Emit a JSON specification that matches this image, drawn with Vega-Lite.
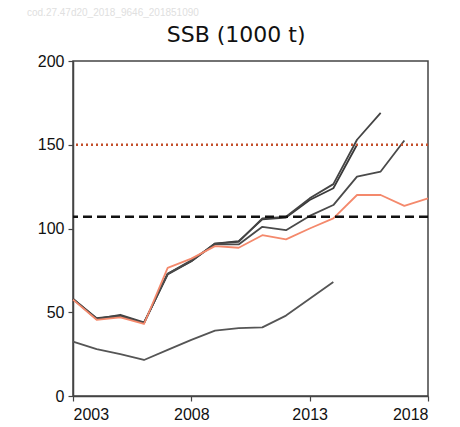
{
  "$schema": "https://vega.github.io/schema/vega-lite/v6.json",
  "autosize": "none",
  "width": 355,
  "height": 335,
  "padding": {"left": 73, "top": 61, "right": 32, "bottom": 31},
  "background": "white",
  "config": {
    "view": {"stroke": "#444", "strokeWidth": 1.5},
    "axis": {"labelFont": "Liberation Sans", "labelFontSize": 16, "labelColor": "#111", "domainColor": "#444", "domainWidth": 1.5, "tickColor": "#444", "tickWidth": 1.2, "tickSize": 5, "grid": false, "title": null}
  },
  "title": {"text": "SSB (1000 t)", "font": "DejaVu Sans", "fontSize": 22, "fontWeight": "normal", "color": "#111", "anchor": "middle", "frame": "bounds", "offset": -39, "dx": 8},
  "datasets": {
    "series": [
      {"series": "a", "year": 2003, "ssb": 32.5}, {"series": "a", "year": 2004, "ssb": 28}, {"series": "a", "year": 2005, "ssb": 25}, {"series": "a", "year": 2006, "ssb": 21.5}, {"series": "a", "year": 2007, "ssb": 27.5}, {"series": "a", "year": 2008, "ssb": 33.5}, {"series": "a", "year": 2009, "ssb": 39}, {"series": "a", "year": 2010, "ssb": 40.5}, {"series": "a", "year": 2011, "ssb": 41}, {"series": "a", "year": 2012, "ssb": 48}, {"series": "a", "year": 2013, "ssb": 58}, {"series": "a", "year": 2014, "ssb": 68},
      {"series": "b", "year": 2003, "ssb": 58}, {"series": "b", "year": 2004, "ssb": 46.5}, {"series": "b", "year": 2005, "ssb": 48}, {"series": "b", "year": 2006, "ssb": 43.5}, {"series": "b", "year": 2007, "ssb": 73}, {"series": "b", "year": 2008, "ssb": 80.5}, {"series": "b", "year": 2009, "ssb": 91}, {"series": "b", "year": 2010, "ssb": 92.5}, {"series": "b", "year": 2011, "ssb": 105.5}, {"series": "b", "year": 2012, "ssb": 106.5}, {"series": "b", "year": 2013, "ssb": 117}, {"series": "b", "year": 2014, "ssb": 124}, {"series": "b", "year": 2015, "ssb": 150},
      {"series": "c", "year": 2003, "ssb": 58}, {"series": "c", "year": 2004, "ssb": 46}, {"series": "c", "year": 2005, "ssb": 48.5}, {"series": "c", "year": 2006, "ssb": 44}, {"series": "c", "year": 2007, "ssb": 72.5}, {"series": "c", "year": 2008, "ssb": 80.5}, {"series": "c", "year": 2009, "ssb": 91}, {"series": "c", "year": 2010, "ssb": 92}, {"series": "c", "year": 2011, "ssb": 106}, {"series": "c", "year": 2012, "ssb": 107}, {"series": "c", "year": 2013, "ssb": 118}, {"series": "c", "year": 2014, "ssb": 126.5}, {"series": "c", "year": 2015, "ssb": 153}, {"series": "c", "year": 2016, "ssb": 169},
      {"series": "d", "year": 2003, "ssb": 58}, {"series": "d", "year": 2004, "ssb": 46}, {"series": "d", "year": 2005, "ssb": 47.5}, {"series": "d", "year": 2006, "ssb": 43.5}, {"series": "d", "year": 2007, "ssb": 73}, {"series": "d", "year": 2008, "ssb": 81}, {"series": "d", "year": 2009, "ssb": 90.5}, {"series": "d", "year": 2010, "ssb": 90.5}, {"series": "d", "year": 2011, "ssb": 101}, {"series": "d", "year": 2012, "ssb": 99}, {"series": "d", "year": 2013, "ssb": 107.5}, {"series": "d", "year": 2014, "ssb": 114}, {"series": "d", "year": 2015, "ssb": 131}, {"series": "d", "year": 2016, "ssb": 134}, {"series": "d", "year": 2017, "ssb": 152.5},
      {"series": "e", "year": 2003, "ssb": 57.5}, {"series": "e", "year": 2004, "ssb": 45.5}, {"series": "e", "year": 2005, "ssb": 47}, {"series": "e", "year": 2006, "ssb": 43}, {"series": "e", "year": 2007, "ssb": 76.5}, {"series": "e", "year": 2008, "ssb": 82}, {"series": "e", "year": 2009, "ssb": 89.5}, {"series": "e", "year": 2010, "ssb": 88.5}, {"series": "e", "year": 2011, "ssb": 96}, {"series": "e", "year": 2012, "ssb": 93.5}, {"series": "e", "year": 2013, "ssb": 100}, {"series": "e", "year": 2014, "ssb": 106}, {"series": "e", "year": 2015, "ssb": 120}, {"series": "e", "year": 2016, "ssb": 120}, {"series": "e", "year": 2017, "ssb": 113.5}, {"series": "e", "year": 2018, "ssb": 118}
    ],
    "refs": [
      {"ref": "trigger", "value": 107},
      {"ref": "limit", "value": 150}
    ],
    "note": [
      {"label": "cod.27.47d20_2018_9646_201851090", "year": 2003, "ssb": 200}
    ]
  },
  "layer": [
    {
      "data": {"name": "series"},
      "mark": {"type": "line", "strokeWidth": 1.8, "strokeJoin": "round"},
      "encoding": {
        "x": {"field": "year", "type": "quantitative", "scale": {"domain": [2003, 2018], "nice": false, "zero": false}, "axis": {"values": [2003, 2008, 2013, 2018], "format": "d", "labelPadding": 5}},
        "y": {"field": "ssb", "type": "quantitative", "scale": {"domain": [0, 200], "nice": false}, "axis": {"values": [0, 50, 100, 150, 200], "labelPadding": 4}},
        "color": {"field": "series", "type": "nominal", "legend": null, "scale": {"domain": ["a", "b", "c", "d", "e"], "range": ["#555555", "#3a3a3a", "#444444", "#4a4a4a", "#f4896c"]}}
      }
    },
    {
      "data": {"name": "refs"},
      "transform": [{"filter": "datum.ref === 'trigger'"}],
      "mark": {"type": "rule", "color": "#111", "strokeWidth": 2.6, "strokeDash": [9, 5]},
      "encoding": {"y": {"field": "value", "type": "quantitative"}}
    },
    {
      "data": {"name": "refs"},
      "transform": [{"filter": "datum.ref === 'limit'"}],
      "mark": {"type": "rule", "color": "#c4502c", "strokeWidth": 2.6, "strokeDash": [2, 3]},
      "encoding": {"y": {"field": "value", "type": "quantitative"}}
    },
    {
      "data": {"name": "note"},
      "mark": {"type": "text", "font": "Liberation Sans", "fontSize": 10, "color": "#e0e0e0", "align": "left", "baseline": "middle", "dx": -46, "dy": -48},
      "encoding": {"x": {"field": "year", "type": "quantitative"}, "y": {"field": "ssb", "type": "quantitative"}, "text": {"field": "label"}}
    }
  ]
}
